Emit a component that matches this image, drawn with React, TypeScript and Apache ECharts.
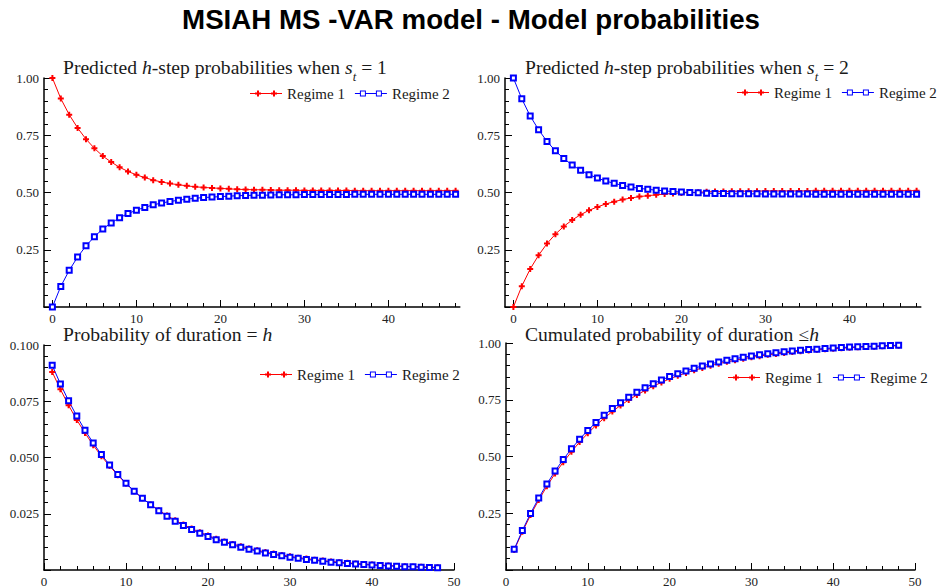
import React, { useEffect, useRef } from "react";
import * as echarts from "echarts";

// ---------- data ----------
const H_STEPS = Array.from({ length: 49 }, (_, i) => i); // h = 0..48
const H_DUR = Array.from({ length: 48 }, (_, i) => i + 1); // h = 1..48

const predS1Regime1 = [
  1.000, 0.910, 0.840, 0.782, 0.733, 0.693, 0.659, 0.633, 0.610, 0.592,
  0.577, 0.565, 0.554, 0.546, 0.539, 0.534, 0.529, 0.525, 0.522, 0.520,
  0.518, 0.516, 0.514, 0.513, 0.512, 0.512, 0.511, 0.510, 0.510, 0.510,
  0.509, 0.509, 0.509, 0.509, 0.509, 0.509, 0.508, 0.508, 0.508, 0.508,
  0.508, 0.508, 0.508, 0.508, 0.508, 0.508, 0.508, 0.508, 0.508,
];
const predS1Regime2 = [
  0.000, 0.090, 0.160, 0.218, 0.267, 0.307, 0.341, 0.367, 0.390, 0.408,
  0.423, 0.435, 0.446, 0.454, 0.461, 0.466, 0.471, 0.475, 0.478, 0.480,
  0.482, 0.484, 0.486, 0.487, 0.488, 0.488, 0.489, 0.490, 0.490, 0.490,
  0.491, 0.491, 0.491, 0.491, 0.491, 0.491, 0.492, 0.492, 0.492, 0.492,
  0.492, 0.492, 0.492, 0.492, 0.492, 0.492, 0.492, 0.492, 0.492,
];
const predS2Regime1 = [
  0.000, 0.091, 0.166, 0.226, 0.277, 0.318, 0.352, 0.380, 0.403, 0.422,
  0.437, 0.450, 0.460, 0.469, 0.476, 0.482, 0.486, 0.490, 0.493, 0.496,
  0.498, 0.500, 0.501, 0.503, 0.504, 0.504, 0.505, 0.506, 0.506, 0.506,
  0.507, 0.507, 0.507, 0.507, 0.507, 0.507, 0.508, 0.508, 0.508, 0.508,
  0.508, 0.508, 0.508, 0.508, 0.508, 0.508, 0.508, 0.508, 0.508,
];
const predS2Regime2 = [
  1.000, 0.909, 0.834, 0.774, 0.723, 0.682, 0.648, 0.620, 0.597, 0.578,
  0.563, 0.550, 0.540, 0.531, 0.524, 0.518, 0.514, 0.510, 0.507, 0.504,
  0.502, 0.500, 0.499, 0.497, 0.496, 0.496, 0.495, 0.494, 0.494, 0.494,
  0.493, 0.493, 0.493, 0.493, 0.493, 0.493, 0.492, 0.492, 0.492, 0.492,
  0.492, 0.492, 0.492, 0.492, 0.492, 0.492, 0.492, 0.492, 0.492,
];
const durRegime1 = [
  0.0880, 0.0803, 0.0732, 0.0667, 0.0609, 0.0555, 0.0506, 0.0462, 0.0421, 0.0384,
  0.0350, 0.0319, 0.0291, 0.0266, 0.0242, 0.0221, 0.0202, 0.0184, 0.0168, 0.0153,
  0.0139, 0.0127, 0.0116, 0.0106, 0.0096, 0.0088, 0.0080, 0.0073, 0.0067, 0.0061,
  0.0055, 0.0051, 0.0046, 0.0042, 0.0038, 0.0035, 0.0032, 0.0029, 0.0027, 0.0024,
  0.0022, 0.0020, 0.0018, 0.0017, 0.0015, 0.0014, 0.0013, 0.0012,
];
const durRegime2 = [
  0.0910, 0.0827, 0.0752, 0.0684, 0.0621, 0.0565, 0.0513, 0.0467, 0.0424, 0.0386,
  0.0350, 0.0319, 0.0290, 0.0263, 0.0239, 0.0217, 0.0198, 0.0180, 0.0163, 0.0149,
  0.0135, 0.0123, 0.0112, 0.0101, 0.0092, 0.0084, 0.0076, 0.0069, 0.0063, 0.0057,
  0.0052, 0.0047, 0.0043, 0.0039, 0.0035, 0.0032, 0.0029, 0.0027, 0.0024, 0.0022,
  0.0020, 0.0018, 0.0017, 0.0015, 0.0014, 0.0012, 0.0011, 0.0010,
];
const cumRegime1 = [
  0.088, 0.168, 0.242, 0.308, 0.369, 0.425, 0.475, 0.521, 0.564, 0.602,
  0.637, 0.669, 0.698, 0.725, 0.749, 0.771, 0.791, 0.810, 0.826, 0.842,
  0.856, 0.868, 0.880, 0.890, 0.900, 0.909, 0.917, 0.924, 0.931, 0.937,
  0.942, 0.948, 0.952, 0.956, 0.960, 0.964, 0.967, 0.970, 0.972, 0.975,
  0.977, 0.979, 0.981, 0.983, 0.984, 0.986, 0.987, 0.988,
];
const cumRegime2 = [
  0.091, 0.174, 0.249, 0.317, 0.379, 0.436, 0.487, 0.534, 0.576, 0.615,
  0.650, 0.682, 0.711, 0.737, 0.761, 0.783, 0.803, 0.821, 0.837, 0.852,
  0.865, 0.877, 0.889, 0.899, 0.908, 0.916, 0.924, 0.931, 0.937, 0.943,
  0.948, 0.953, 0.957, 0.961, 0.965, 0.968, 0.971, 0.973, 0.976, 0.978,
  0.980, 0.982, 0.983, 0.985, 0.986, 0.988, 0.989, 0.990,
];

const LEGEND_NAMES = ["Regime 1", "Regime 2"];
const MAIN_TITLE = "MSIAH MS -VAR model - Model probabilities";

// ---------- styles ----------
const SERIF = "Liberation Serif";
const SANS = "Liberation Sans";
const RED = "#ff0000";
const BLUE = "#0000ff";
const TXT = "#1a1a1a";
const PLUS = "path://M2,0H4V2H6V4H4V6H2V4H0V2H2Z";
const ICON_R1 =
  "path://M0,3H32V4H0Z M5,2.5H11V4.5H5Z M7,0.5H9V6.5H7Z M21,2.5H27V4.5H21Z M23,0.5H25V6.5H23Z";
const ICON_R2 =
  "path://M0,3H5V4H0Z M11,3H21V4H11Z M27,3H32V4H27Z M5,0.5H11V6.5H5Z M6,1.5V5.5H10V1.5Z M21,0.5H27V6.5H21Z M22,1.5V5.5H26V1.5Z";

const pairs = (xs: number[], ys: number[]) => ys.map((y, i) => [xs[i], y]);

const axisLine = { show: true, onZero: false, lineStyle: { color: "#000", width: 1.5 } };
const majorTick = { show: true, inside: true, length: 7, lineStyle: { color: "#000", width: 1 } };
const minorTick = { show: true, splitNumber: 5, length: 4, lineStyle: { color: "#000", width: 1 } };
const labelBase = { fontFamily: SERIF, fontSize: 13, color: "#222", margin: 5 };

function yAxis(gridIndex: number, max: number, interval: number, digits: number) {
  return {
    type: "value", gridIndex, min: 0, max, interval,
    axisLine, axisTick: majorTick, minorTick,
    splitLine: { show: false }, minorSplitLine: { show: false },
    axisLabel: { ...labelBase, formatter: (v: number) => (v === 0 ? "" : v.toFixed(digits)) },
  };
}
function hiddenY(gridIndex: number) {
  return { type: "value", gridIndex, min: 0, max: 1, show: false };
}
function dataX(gridIndex: number, min: number, max: number) {
  return {
    type: "value", gridIndex, min, max,
    axisLine, axisTick: { show: false }, axisLabel: { show: false },
    splitLine: { show: false },
  };
}
function tickX(gridIndex: number, max: number, interval: number, major: boolean) {
  return {
    type: "value", gridIndex, min: 0, max, interval,
    axisLine: { show: false, onZero: false },
    axisTick: major ? majorTick : { show: true, inside: true, length: 4, lineStyle: { color: "#000", width: 1 } },
    axisLabel: major ? { ...labelBase, formatter: (v: number) => String(v) } : { show: false },
    splitLine: { show: false },
  };
}
function fullX(gridIndex: number) {
  return {
    type: "value", gridIndex, min: 0, max: 50, interval: 10,
    axisLine, axisTick: majorTick, minorTick,
    splitLine: { show: false }, minorSplitLine: { show: false },
    axisLabel: { ...labelBase, formatter: (v: number) => String(v) },
  };
}

function r1(data: number[][], xi: number, yi: number) {
  return {
    type: "line", name: LEGEND_NAMES[0], xAxisIndex: xi, yAxisIndex: yi, data,
    symbol: PLUS, symbolSize: 6, showSymbol: true,
    lineStyle: { color: RED, width: 1 }, itemStyle: { color: RED },
  };
}
function r2(data: number[][], xi: number, yi: number) {
  return {
    type: "line", name: LEGEND_NAMES[1], xAxisIndex: xi, yAxisIndex: yi, data,
    symbol: "emptyRect", symbolSize: 5, showSymbol: true,
    lineStyle: { color: BLUE, width: 1 }, itemStyle: { color: BLUE, borderWidth: 1 },
  };
}

function legend(left: number, top: number) {
  return {
    left, top, padding: 0, orient: "horizontal", itemWidth: 32, itemHeight: 7, itemGap: 10,
    selectedMode: false,
    data: [
      { name: LEGEND_NAMES[0], icon: ICON_R1, itemStyle: { color: RED, borderWidth: 0 } },
      { name: LEGEND_NAMES[1], icon: ICON_R2, itemStyle: { color: BLUE, borderWidth: 0 } },
    ],
    itemStyle: { borderWidth: 0 },
    textStyle: { fontFamily: SERIF, fontSize: 15, color: TXT },
  };
}

const FS = 18.5;
const SX = 1.06;
const rich = {
  n: { fontFamily: SERIF, fontSize: FS, fill: TXT, verticalAlign: "middle" },
  i: { fontFamily: SERIF, fontSize: FS, fontStyle: "italic", fill: TXT, verticalAlign: "middle" },
  sub: { fontFamily: SERIF, fontSize: 12, fontStyle: "italic", fill: TXT, verticalAlign: "middle", padding: [18, 0, 0, 0] },
};
function titleText(x: number, y: number, text: string) {
  return {
    type: "text", x, y, scaleX: SX, silent: true,
    style: { text, rich, fontFamily: SERIF, fontSize: FS, fill: TXT, verticalAlign: "top", align: "left" },
  };
}

export default function App() {
  const ref = useRef<HTMLDivElement>(null);
  useEffect(() => {
    const chart = echarts.init(ref.current!, null, { renderer: "svg" });
    const option: any = {
      animation: false,
      backgroundColor: "#fff",
      textStyle: { fontFamily: SERIF },
      grid: [
        { left: 44, top: 78, width: 415.8, height: 229 },
        { left: 505, top: 78, width: 415.8, height: 229 },
        { left: 44, top: 345, width: 410, height: 225.5 },
        { left: 506, top: 343, width: 409, height: 228 },
        { left: 52.4, top: 78, width: 403.2, height: 229 },
        { left: 52.4, top: 78, width: 336, height: 229 },
        { left: 513.4, top: 78, width: 403.2, height: 229 },
        { left: 513.4, top: 78, width: 336, height: 229 },
      ],
      xAxis: [
        dataX(0, -1, 48.5),
        dataX(1, -1, 48.5),
        fullX(2),
        fullX(3),
        tickX(4, 48, 2, false),
        tickX(5, 40, 10, true),
        tickX(6, 48, 2, false),
        tickX(7, 40, 10, true),
      ],
      yAxis: [
        yAxis(0, 1, 0.25, 2),
        yAxis(1, 1, 0.25, 2),
        yAxis(2, 0.1, 0.025, 3),
        yAxis(3, 1, 0.25, 2),
        hiddenY(4), hiddenY(5), hiddenY(6), hiddenY(7),
      ],
      legend: [legend(250, 86), legend(737, 85), legend(260, 367), legend(728, 370)],
      series: [
        r1(pairs(H_STEPS, predS1Regime1), 0, 0),
        r2(pairs(H_STEPS, predS1Regime2), 0, 0),
        r1(pairs(H_STEPS, predS2Regime1), 1, 1),
        r2(pairs(H_STEPS, predS2Regime2), 1, 1),
        r1(pairs(H_DUR, durRegime1), 2, 2),
        r2(pairs(H_DUR, durRegime2), 2, 2),
        r1(pairs(H_DUR, cumRegime1), 3, 3),
        r2(pairs(H_DUR, cumRegime2), 3, 3),
      ],
      graphic: [
        {
          type: "text", x: 471, y: 5, silent: true,
          style: { text: MAIN_TITLE, fontFamily: SANS, fontSize: 27.7, fontWeight: "bold", fill: "#000", align: "center", verticalAlign: "top" },
        },
        titleText(63, 53, "{n|Predicted }{i|h}{n|-step probabilities when }{i|s}{sub|t}{n| = 1}"),
        titleText(525, 53, "{n|Predicted }{i|h}{n|-step probabilities when }{i|s}{sub|t}{n| = 2}"),
        titleText(63, 325, "{n|Probability of duration = }{i|h}"),
        titleText(525, 325, "{n|Cumulated probability of duration ≤}{i|h}"),
      ],
    };
    chart.setOption(option);
    return () => chart.dispose();
  }, []);
  return (
    <div
      ref={ref}
      style={{ position: "fixed", left: 0, top: 0, width: 943, height: 588, background: "#fff" }}
    />
  );
}
